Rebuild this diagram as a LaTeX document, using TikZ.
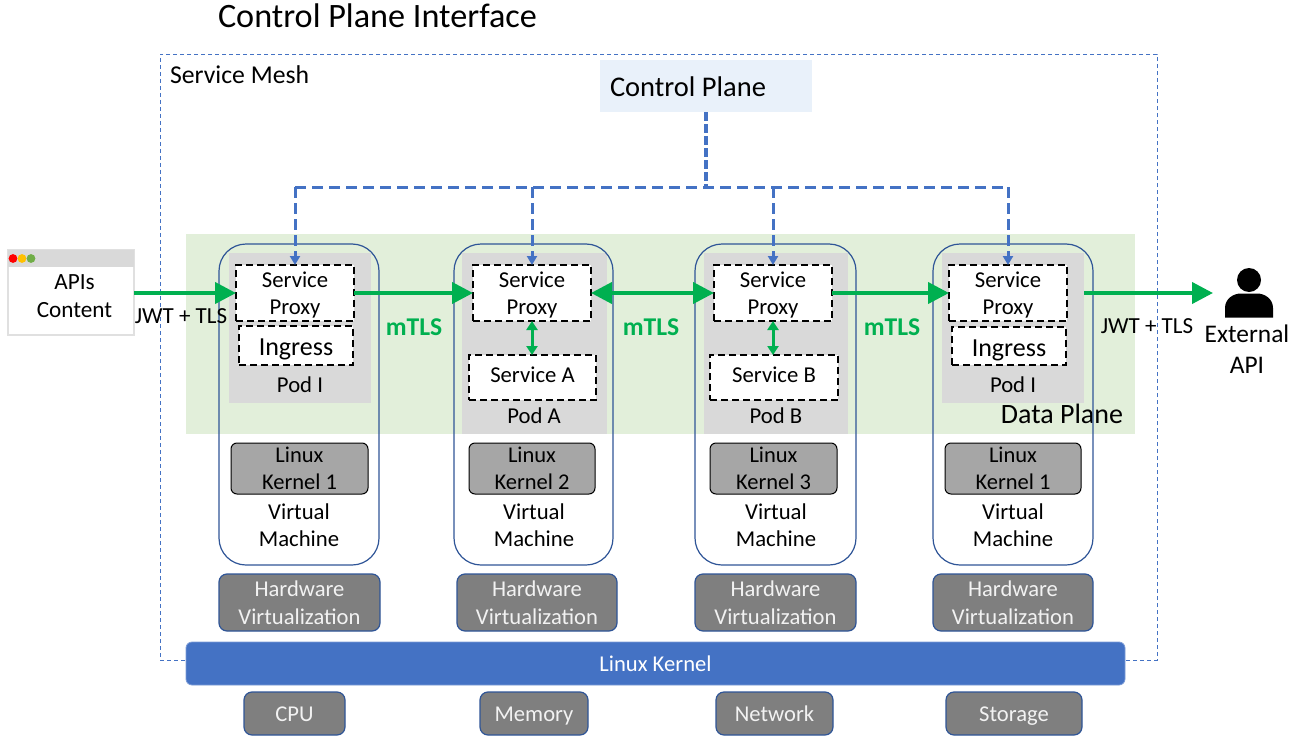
\documentclass[tikz,border=0pt]{standalone}
\usepackage{fontspec}
\setmainfont{Carlito}
\usetikzlibrary{arrows.meta,calc}
\definecolor{blueL}{HTML}{4472C4}
\definecolor{blueD}{HTML}{2F5597}
\definecolor{greenA}{HTML}{00B050}
\definecolor{planeG}{HTML}{E2EFDA}
\definecolor{cpB}{HTML}{E9F1FA}
\definecolor{podG}{HTML}{D9D9D9}
\definecolor{kernG}{HTML}{A6A6A6}
\definecolor{hwG}{HTML}{7F7F7F}
\definecolor{dotR}{HTML}{FF0000}
\definecolor{dotY}{HTML}{FFC000}
\definecolor{dotG}{HTML}{70AD47}
\newcommand{\fs}[2]{\fontsize{#1}{#2}\selectfont}
\newcommand{\bx}[7]{\node[#6,minimum width={(#4-#2)*1pt},minimum height={(#5-#3)*1pt}] (#1) at ({(#2+#4)/2},{(#3+#5)/2}) {#7};}
\newcommand{\tsp}{\rule{0pt}{20pt}}
\newcommand{\lw}[2]{\raisebox{#1}{\smash{#2}}\strut}
\tikzset{
  base/.style={inner sep=0pt,outer sep=0pt,align=center,text=black},
  mesh/.style={base,draw=blueL,line width=0.9pt,dash pattern=on 4pt off 3pt},
  plane/.style={base,fill=planeG},
  cpbox/.style={base,fill=cpB},
  vm/.style={base,draw=blueD,line width=1.2pt,rounded corners=27pt},
  pod/.style={base,fill=podG},
  dbox/.style={base,fill=white,draw=black,line width=2.2pt,dash pattern=on 7pt off 4pt,font=\fs{22.7}{27}},
  kern/.style={base,fill=kernG,draw=black,line width=1pt,rounded corners=6pt,font=\fs{22.5}{27}},
  hw/.style={base,fill=hwG,draw=blueD,line width=1.2pt,rounded corners=8pt,text=white!95!black,font=\fs{22.6}{28}},
  lk/.style={base,fill=blueL,draw=blueL!70!white,line width=0.8pt,rounded corners=6pt,text=white,font=\fs{22.6}{26}},
  lab/.style={base,font=\fs{22.7}{27}},
  mtls/.style={base,text=greenA,font=\bfseries\fs{25.6}{27}},
  jwt/.style={base,font=\fs{23}{25}},
  winbox/.style={base,fill=white,draw=black!12,line width=1.6pt},
  winbar/.style={base,fill=podG},
  gar/.style={draw=greenA,line width=4pt,-{Triangle[length=21pt,width=21pt]}},
  gard/.style={draw=greenA,line width=4pt,{Triangle[length=21pt,width=21pt]}-{Triangle[length=21pt,width=21pt]}},
  gsm/.style={draw=greenA,line width=3pt,{Triangle[length=9pt,width=11pt]}-{Triangle[length=9pt,width=11pt]}},
  cpl/.style={draw=blueL,line width=3pt,dash pattern=on 11pt off 6pt},
  cpt/.style={draw=blueL,line width=3.6pt,dash pattern=on 9pt off 3pt},
  drop/.style={draw=blueL,line width=3pt,dash pattern=on 11pt off 5pt,-{Triangle[length=9pt,width=10pt]}},
}
\begin{document}
\begin{tikzpicture}[x=1pt,y=-1pt]
\useasboundingbox (0,0) rectangle (1299,736);
% frames
\bx{meshbox}{160}{54}{1157}{660}{mesh}{}
\bx{dataplane}{186}{234}{1135}{434}{plane}{}
\node[base,anchor=west,font=\fs{34.2}{38}] (title) at (218,16) {Control Plane Interface};
\node[base,anchor=west,font=\fs{25.7}{28}] (meshlab) at (170,75) {Service Mesh};
\bx{cp}{600}{60}{812}{112}{cpbox}{}
\node[base,anchor=west,font=\fs{28.5}{34}] (cplab) at (610,87) {Control Plane};
\node[base,anchor=east,font=\fs{28}{32}] (dplab) at (1123,414) {Data Plane};
% pods
\bx{podI}{229}{253}{371}{403}{pod}{}
\bx{podA}{462}{253}{607}{434}{pod}{}
\bx{podB}{704}{253}{848}{434}{pod}{}
\bx{podJ}{942}{253}{1084}{403}{pod}{}
% virtual machines
\bx{vmA}{219}{244}{379}{565}{vm}{}
\bx{vmB}{454}{244}{613}{565}{vm}{}
\bx{vmC}{695}{244}{856}{565}{vm}{}
\bx{vmD}{933}{244}{1093}{565}{vm}{}
% inner dashed boxes
\bx{spI}{236}{265}{354}{321}{dbox}{\tsp Service\\Proxy}
\bx{spA}{473}{265}{591}{321}{dbox}{\tsp Service\\Proxy}
\bx{spB}{714}{265}{832}{321}{dbox}{\tsp Service\\Proxy}
\bx{spJ}{949}{265}{1067}{321}{dbox}{\tsp Service\\Proxy}
\bx{ingI}{239}{326}{353}{365}{dbox,font=\fs{26}{27}}{\lw{-4.5pt}{Ingress}}
\bx{ingJ}{952}{327}{1066}{365}{dbox,font=\fs{26}{27}}{\lw{-5pt}{Ingress}}
\bx{svcA}{469}{355}{596}{400}{dbox}{\lw{0pt}{Service A}}
\bx{svcB}{710}{355}{838}{400}{dbox}{\lw{0pt}{Service B}}
\node[lab] (podIl) at (300,387) {\lw{0pt}{Pod I}};
\node[lab] (podAl) at (534,418) {\lw{0pt}{Pod A}};
\node[lab] (podBl) at (776,418) {\lw{0pt}{Pod B}};
\node[lab] (podJl) at (1013,387) {\lw{0pt}{Pod I}};
% kernels
\bx{kA}{231}{443}{368}{494}{kern}{\rule{0pt}{16pt}Linux\\Kernel 1}
\bx{kB}{469}{443}{595}{494}{kern}{\rule{0pt}{16pt}Linux\\Kernel 2}
\bx{kC}{710}{443}{837}{494}{kern}{\rule{0pt}{16pt}Linux\\Kernel 3}
\bx{kD}{945}{443}{1081}{494}{kern}{\rule{0pt}{16pt}Linux\\Kernel 1}
\node[lab] (vmAl) at (299,525) {Virtual\\Machine};
\node[lab] (vmBl) at (534,525) {Virtual\\Machine};
\node[lab] (vmCl) at (776,525) {Virtual\\Machine};
\node[lab] (vmDl) at (1013,525) {Virtual\\Machine};
% hardware
\bx{hwA}{219}{574}{380}{631}{hw}{Hardware\\Virtualization}
\bx{hwB}{457}{574}{617}{631}{hw}{Hardware\\Virtualization}
\bx{hwC}{695}{574}{856}{631}{hw}{Hardware\\Virtualization}
\bx{hwD}{933}{574}{1093}{631}{hw}{Hardware\\Virtualization}
\bx{lkbar}{186}{642}{1125}{685}{lk}{\lw{-2.5pt}{Linux Kernel}}
\bx{cpu}{244}{692}{345}{735}{hw}{\lw{-2.5pt}{CPU}}
\bx{mem}{480}{692}{588}{735}{hw}{\lw{-2.5pt}{Memory}}
\bx{net}{716}{692}{833}{735}{hw}{\lw{-2.5pt}{Network}}
\bx{sto}{946}{692}{1082}{735}{hw}{\lw{-2.5pt}{Storage}}
% browser window
\bx{win}{8}{250}{134}{335}{winbox}{}
\bx{winb}{8}{250}{134}{267}{winbar}{}
\fill[dotR] (13,258.5) circle (4.4);
\fill[dotY] (22,258.5) circle (4.4);
\fill[dotG] (31,258.5) circle (4.4);
\node[lab,font=\fs{23.2}{28}] (winl) at (74.5,296) {APIs\\Content};
% external user
\fill[black] (1249,280) circle (12);
\fill[black] (1225,317.5) -- (1225,308) .. controls (1225,299) and (1233,293.5) .. (1241,293.5) -- (1257,293.5) .. controls (1265,293.5) and (1273,299) .. (1273,308) -- (1273,317.5) -- cycle;
\coordinate (extin) at (1213,293);
\node[lab,font=\fs{25.4}{31}] (extl) at (1247,349.5) {External\\API};
% control plane lines
\coordinate (bus) at (706,187);
\coordinate (busI) at (spI.north |- bus);
\coordinate (busJ) at (spJ.north |- bus);
\draw[cpt] (cp.south) -- (bus);
\draw[cpl] (busI) -- (busJ);
\draw[drop] (busI) -- (spI.north);
\draw[drop] (spA.north |- bus) -- (spA.north);
\draw[drop] (spB.north |- bus) -- (spB.north);
\draw[drop] (busJ) -- (spJ.north);
% green arrows
\draw[gar] (win.east |- spI.east) -- (spI.west);
\draw[gar] (spI.east) -- (spA.west);
\draw[gard] (spA.east) -- (spB.west);
\draw[gar] (spB.east) -- (spJ.west);
\coordinate (podJe) at (podJ.east |- spJ.east);
\draw[gar] (podJe) -- (extin);
\draw[gsm] (spA.south) -- (spA.south |- svcA.north);
\draw[gsm] (spB.south) -- (spB.south |- svcB.north);
\node[mtls] (m1) at (414,327) {mTLS};
\node[mtls] (m2) at (651,327) {mTLS};
\node[mtls] (m3) at (892,327) {mTLS};
\node[jwt] (j1) at (181,316) {JWT + TLS};
\node[jwt] (j2) at (1147,326) {JWT + TLS};
\end{tikzpicture}
\end{document}
